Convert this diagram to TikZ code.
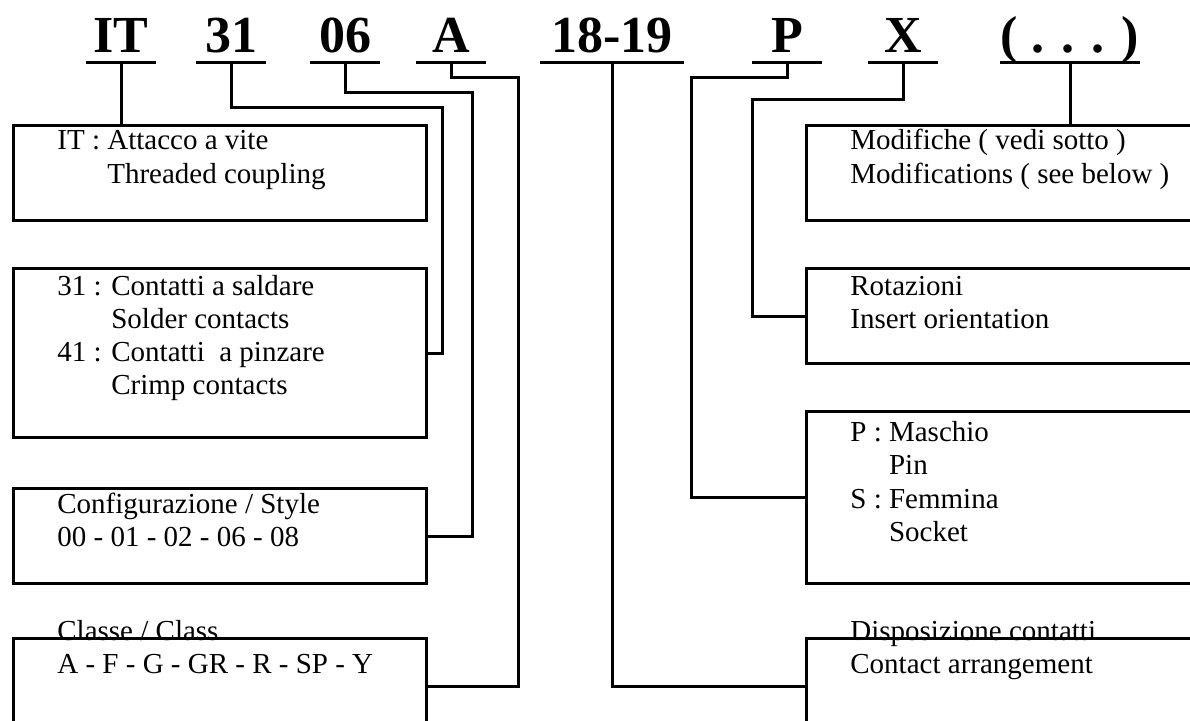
\documentclass[tikz,border=0pt]{standalone}
\usepackage{fontspec}
\setmainfont{Liberation Serif}
\begin{document}
\begin{tikzpicture}[x=0.5pt, y=-0.5pt,
    codigo/.style={font=\fontsize{26}{31}\selectfont\bfseries, anchor=base,
        inner xsep=0pt, inner ysep=5pt, text depth=0pt},
    caja/.style={draw, line width=1.5pt, anchor=north west, inner sep=0pt,
        minimum width=206.5pt, minimum height=47.5pt},
    texto/.style={font=\fontsize{14.5}{17}\selectfont, anchor=base west, inner sep=0pt},
    linea/.style={line width=1.5pt}]
    \useasboundingbox (0,0) rectangle (1190,720);
    \clip (0,0) rectangle (1190,720);
    % Codigo
    \foreach \n/\px/\w/\t in {it/121/34.5/IT, 31/231/34.5/31, 06/345/34.5/06,
        a/451/34.5/A, 1819/612/71.5/18-19, p/787/34.5/P, x/903/34.5/X,
        mod/1070/69.5/( . . . )} {
        \node[codigo, minimum width=\w pt] (t\n) at (\px,52) {\t};
        \draw[linea] (t\n.south west) -- (t\n.south east);
    }
    % Cajas
    \node[caja] (bit) at (12,124) {};
    \node[caja, minimum height=84.5pt] (b31) at (12,267) {};
    \node[caja] (b06) at (12,487) {};
    \node[caja] (ba) at (12,637) {};
    \node[caja] (rmod) at (805,124) {};
    \node[caja] (rrot) at (805,267) {};
    \node[caja, minimum height=86pt] (rp) at (805,410) {};
    \node[caja] (r1819) at (805,637) {};
    % Textos
    \node[texto] (it1) at (57,149) {IT : Attacco a vite};
    \node[texto] (it2) at (57,183) {\hphantom{IT : }Threaded coupling};
    \node[texto] (s1) at (57,295) {31 : Contatti a saldare};
    \node[texto] (s2) at (57,328) {\hphantom{31 : }Solder contacts};
    \node[texto] (s3) at (57,361) {41 : Contatti\ \ a pinzare};
    \node[texto] (s4) at (57,394) {\hphantom{41 : }Crimp contacts};
    \node[texto] (c1) at (57,513) {Configurazione / Style};
    \node[texto] (c2) at (57,546) {00 - 01 - 02 - 06 - 08};
    \node[texto] (k1) at (57,640) {Classe / Class};
    \node[texto] (k2) at (57,673) {A - F - G - GR - R - SP - Y};
    \node[texto] (m1) at (850,149) {Modifiche ( vedi sotto )};
    \node[texto] (m2) at (850,183) {Modifications ( see below )};
    \node[texto] (r1) at (850,295) {Rotazioni};
    \node[texto] (r2) at (850,328) {Insert orientation};
    \node[texto] (p1) at (850,441) {P : Maschio};
    \node[texto] (p2) at (850,474) {\hphantom{P : }Pin};
    \node[texto] (p3) at (850,508) {S : Femmina};
    \node[texto] (p4) at (850,541) {\hphantom{S : }Socket};
    \node[texto] (d1) at (850,640) {Disposizione contatti};
    \node[texto] (d2) at (850,673) {Contact arrangement};
    % Conectores
    \coordinate (q31) at (442,107);
    \coordinate (q06) at (472,92);
    \coordinate (qa) at (518,77);
    \coordinate (qp) at (691,77);
    \coordinate (qx) at (752,99);
    \draw[linea] (tit.south) -- (tit.south |- bit.north);
    \draw[linea] (t31.south) |- (q31) |- (b31.east);
    \draw[linea] (t06.south) |- (q06) |- (b06.east);
    \draw[linea] (ta.south) |- (qa) |- (ba.east);
    \draw[linea] (t1819.south) |- (r1819.west);
    \draw[linea] (tp.south) |- (qp) |- (rp.west);
    \draw[linea] (tx.south) |- (qx) |- (rrot.west);
    \draw[linea] (tmod.south) -- (tmod.south |- rmod.north);
\end{tikzpicture}
\end{document}
